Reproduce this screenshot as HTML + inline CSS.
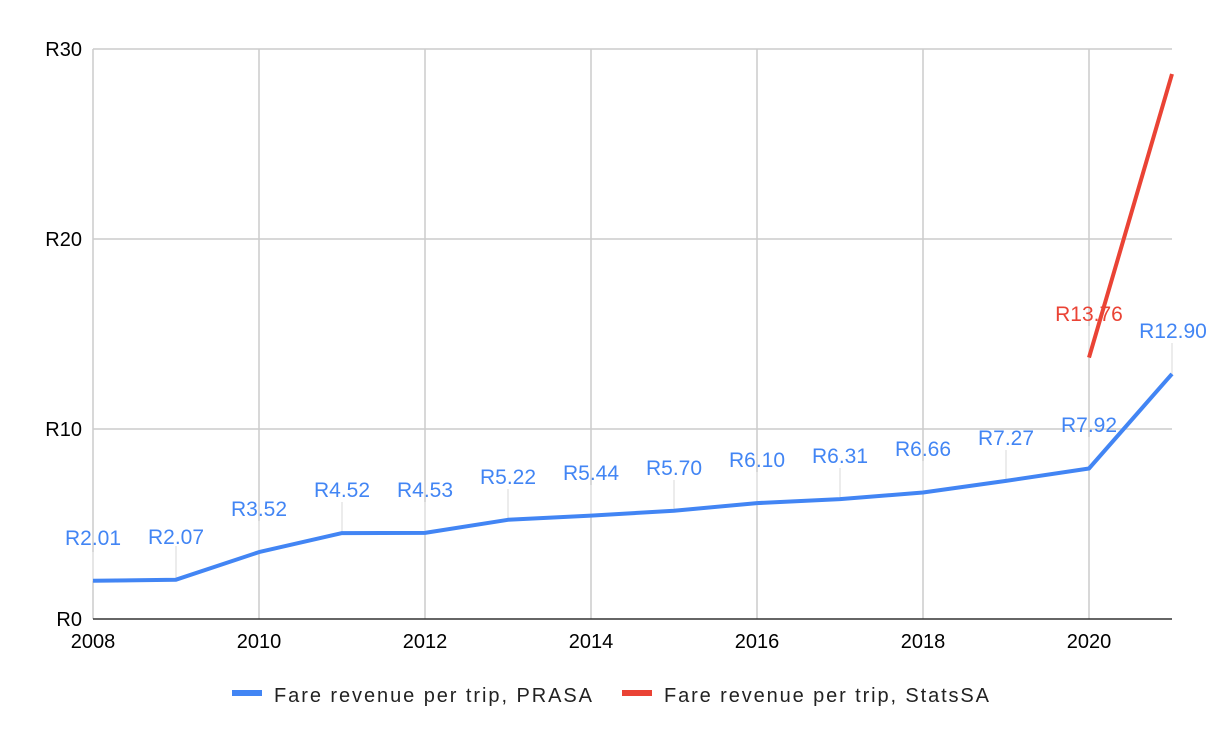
<!DOCTYPE html>
<html><head><style>body{margin:0;background:#fff}svg{display:block}text{font-family:"Liberation Sans",Arial,sans-serif}</style></head>
<body>
<svg width="1222" height="742" xmlns="http://www.w3.org/2000/svg">
<rect width="1222" height="742" fill="#fff"/>
<g stroke="#cccccc" stroke-width="1.5">
<line x1="93" y1="49" x2="1172" y2="49"/><line x1="93" y1="239" x2="1172" y2="239"/><line x1="93" y1="429" x2="1172" y2="429"/>
<line x1="93" y1="49" x2="93" y2="619"/><line x1="259" y1="49" x2="259" y2="619"/><line x1="425" y1="49" x2="425" y2="619"/><line x1="591" y1="49" x2="591" y2="619"/><line x1="757" y1="49" x2="757" y2="619"/><line x1="923" y1="49" x2="923" y2="619"/><line x1="1089" y1="49" x2="1089" y2="619"/>
</g>
<line x1="93" y1="619" x2="1172" y2="619" stroke="#333" stroke-width="1.5"/>
<g font-size="20" fill="#000">
<text x="82" y="56" text-anchor="end">R30</text><text x="82" y="246" text-anchor="end">R20</text><text x="82" y="436" text-anchor="end">R10</text><text x="82" y="626" text-anchor="end">R0</text>
<g text-anchor="middle"><text x="93" y="648">2008</text><text x="259" y="648">2010</text><text x="425" y="648">2012</text><text x="591" y="648">2014</text><text x="757" y="648">2016</text><text x="923" y="648">2018</text><text x="1089" y="648">2020</text></g>
</g>
<g stroke="#e6e6e6" stroke-width="1.5">
<line x1="93" y1="581" x2="93" y2="552"/><line x1="176" y1="580" x2="176" y2="546"/><line x1="259" y1="552" x2="259" y2="521"/><line x1="342" y1="533" x2="342" y2="502"/><line x1="425" y1="533" x2="425" y2="502"/><line x1="508" y1="520" x2="508" y2="489"/><line x1="591" y1="516" x2="591" y2="485"/><line x1="674" y1="511" x2="674" y2="480"/><line x1="757" y1="503" x2="757" y2="472"/><line x1="840" y1="499" x2="840" y2="468"/><line x1="923" y1="492" x2="923" y2="461"/><line x1="1006" y1="481" x2="1006" y2="450"/><line x1="1089" y1="468" x2="1089" y2="437"/><line x1="1172" y1="374" x2="1172" y2="343"/><line x1="1089" y1="357" x2="1089" y2="326"/>
</g>
<polyline fill="none" stroke="#4285f4" stroke-width="4" stroke-linejoin="round" points="93,580.8 176,579.7 259,552.1 342,533.1 425,532.9 508,519.8 591,515.6 674,510.7 757,503.1 840,499.1 923,492.5 1006,480.9 1089,468.5 1172,373.9"/>
<polyline fill="none" stroke="#ea4335" stroke-width="4" points="1089,357.6 1172,74"/>
<g font-size="21" fill="#4285f4" text-anchor="middle">
<text x="93" y="545">R2.01</text><text x="176" y="544">R2.07</text><text x="259" y="516">R3.52</text><text x="342" y="497">R4.52</text><text x="425" y="497">R4.53</text><text x="508" y="484">R5.22</text><text x="591" y="480">R5.44</text><text x="674" y="475">R5.70</text><text x="757" y="467">R6.10</text><text x="840" y="463">R6.31</text><text x="923" y="456">R6.66</text><text x="1006" y="445">R7.27</text><text x="1089" y="432">R7.92</text><text x="1173" y="338">R12.90</text>
</g>
<text x="1089" y="321" font-size="21" fill="#ea4335" text-anchor="middle">R13.76</text>
<rect x="232" y="690" width="30" height="6" fill="#4285f4"/>
<text x="274" y="702" font-size="20" fill="#222" textLength="318" lengthAdjust="spacing">Fare revenue per trip, PRASA</text>
<rect x="622" y="690" width="30" height="6" fill="#ea4335"/>
<text x="664" y="702" font-size="20" fill="#222" textLength="325" lengthAdjust="spacing">Fare revenue per trip, StatsSA</text>
</svg>
</body></html>
